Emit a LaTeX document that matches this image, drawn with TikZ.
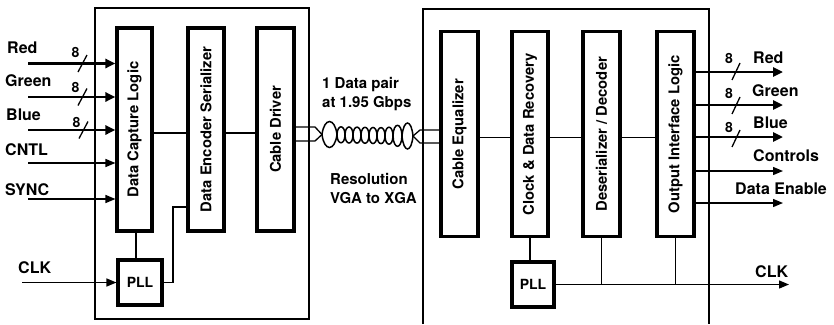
\documentclass[tikz,border=0pt]{standalone}
\usepackage{fontspec}
\setmainfont{TeX Gyre Heros}
\usetikzlibrary{arrows.meta}
\begin{document}
\begin{tikzpicture}[x=1pt,y=-1pt,
  outer/.style={draw, line width=1.7pt},
  blk/.style={draw, line width=3.1pt, inner sep=0pt, minimum height=203pt},
  blkR/.style={blk, minimum height=205pt},
  blabel/.style={font=\fontsize{14.8}{16}\selectfont\bfseries},
  lab/.style={font=\fontsize{16}{18}\selectfont\bfseries, inner sep=0pt, anchor=west},
  mid/.style={font=\fontsize{15}{17}\selectfont\bfseries, inner sep=0pt, anchor=west},
  eight/.style={font=\fontsize{14}{15}\selectfont\bfseries, inner sep=0pt},
  conn/.style={line width=1.3pt},
  thickarrow/.style={line width=2.5pt, -{Triangle[length=10pt,width=9pt]}},
  thinarrow/.style={line width=1.4pt, -{Triangle[length=10pt,width=8pt]}},
  busmark/.style={line width=1.3pt},
  cab/.style={line width=1.5pt},
]
\useasboundingbox (0,0) rectangle (834,324);

% outer boxes
\draw[outer] (95,8) rectangle (309,319);
\draw[outer] (423,324) -- (423,9) -- (709,9) -- (709,324);

% left blocks
\node[blk, minimum width=35pt, label={[blabel,rotate=90]center:Data Capture Logic}] (dcl) at (134.5,129.5) {};
\node[blk, minimum width=36pt, label={[blabel,rotate=90]center:Data Encoder Serializer}] (des) at (206,129.5) {};
\node[blk, minimum width=37pt, label={[blabel,rotate=90]center:Cable Driver}] (cd) at (275.5,129.5) {};
\node[draw, line width=3.1pt, minimum width=44pt, minimum height=45pt, inner sep=0pt, font=\fontsize{14}{16}\selectfont\bfseries] (pllL) at (140,282.5) {PLL};

% right blocks
\node[blkR, minimum width=37pt, label={[blabel,rotate=90]center:Cable Equalizer}] (ce) at (459.5,134.3) {};
\node[blkR, minimum width=36pt, label={[blabel,rotate=90]center:Clock \& Data Recovery}] (cdr) at (530,134.3) {};
\node[blkR, minimum width=37pt, label={[blabel,rotate=90]center:Deserializer / Decoder}] (dd) at (601.5,134.3) {};
\node[blkR, minimum width=37pt, label={[blabel,rotate=90]center:Output Interface Logic}] (oil) at (675.5,134.3) {};
\node[draw, line width=3.1pt, minimum width=42pt, minimum height=45pt, inner sep=0pt, font=\fontsize{14}{16}\selectfont\bfseries] (pllR) at (533,284.5) {PLL};

% left inputs
\coordinate (iRed) at (28,63.5);
\coordinate (iGreen) at (28,97);
\coordinate (iBlue) at (28,130);
\coordinate (iCntl) at (28,163);
\coordinate (iSync) at (28,199);
\coordinate (iClk) at (22,282.5);
\draw[thickarrow] (iRed) -- (iRed -| dcl.west);
\draw[thickarrow] (iGreen) -- (iGreen -| dcl.west);
\draw[thickarrow] (iBlue) -- (iBlue -| dcl.west);
\draw[thinarrow] (iCntl) -- (iCntl -| dcl.west);
\draw[thinarrow] (iSync) -- (iSync -| dcl.west);
\draw[thinarrow] (iClk) -- (pllL.west);

\node[lab] (tRed) at (7,48) {Red};
\node[lab] (tGreen) at (5,81) {Green};
\node[lab] (tBlue) at (6,115) {Blue};
\node[lab] (tCntl) at (5,150) {CNTL};
\node[lab] (tSync) at (5,190) {SYNC};
\node[lab] (tClk) at (18,268) {CLK};

\node[eight] (e1) at (75.5,52) {8};
\node[eight] (e2) at (75.5,87) {8};
\node[eight] (e3) at (76.5,122) {8};
\draw[busmark] (78,72) -- (87,55);
\draw[busmark] (78,105.5) -- (87,88.5);
\draw[busmark] (79,138.5) -- (88,121.5);

% left internal connections
\draw[conn] ([yshift=-3.5pt]dcl.east) -- ([yshift=-3.5pt]des.west);
\draw[conn] ([yshift=-3.5pt]des.east) -- ([yshift=-3.5pt]cd.west);
\draw[conn] ([xshift=-4pt]pllL.north) -- ([xshift=-4pt]pllL.north |- dcl.south);
\coordinate (kink) at (173,207);
\draw[conn] (pllL.east) -| (kink) -- (kink -| des.west);

% cable
\coordinate (l1) at (315,127);
\coordinate (l2) at (315,141);
\coordinate (tpL) at (322,134.5);
\coordinate (r1) at (420,130);
\coordinate (r2) at (420,143);
\coordinate (tpR) at (413,136);
\draw[conn] (cd.east |- l1) -- (l1) -- (tpL) -- (l2) -- (cd.east |- l2);
\draw[conn] (ce.west |- r1) -- (r1) -- (tpR) -- (r2) -- (ce.west |- r2);
\foreach \a/\b/\h/\c/\k in {322/337/13/134.5/0.15, 337/345/8/134.8/0.02, 345/353/8/135/0.02, 353/361/8/135.1/0.02, 361/369/8/135.3/0.02, 369/377/8/135.5/0.02, 377/385/8/135.6/0.02, 385/393/8.5/135.7/0.02, 393/402/10.5/135.8/0.05, 402/413/13/136/0.15}{
  \draw[cab] (\a,\c) .. controls ({\a+\k*(\b-\a)},{\c-1.33*\h}) and ({\b-\k*(\b-\a)},{\c-1.33*\h}) .. (\b,\c)
     .. controls ({\b-\k*(\b-\a)},{\c+1.33*\h}) and ({\a+\k*(\b-\a)},{\c+1.33*\h}) .. (\a,\c);
}
\node[mid] (m1) at (322,85) {1 Data pair};
\node[mid] (m2) at (322,104) {at 1.95 Gbps};
\node[mid] (m3) at (330,179) {Resolution};
\node[mid] (m4) at (330,198) {VGA to XGA};

% right internal connections
\draw[conn] ([yshift=-3pt]ce.east) -- ([yshift=-3pt]cdr.west);
\draw[conn] ([yshift=-3pt]cdr.east) -- ([yshift=-3pt]dd.west);
\draw[conn] ([yshift=-3pt]dd.east) -- ([yshift=-3pt]oil.west);
\draw[conn] ([xshift=-3pt]pllR.north) -- ([xshift=-3pt]pllR.north |- cdr.south);
\coordinate (oClk) at (789,284.5);
\draw[thinarrow] (pllR.east) -- (oClk);
\draw[conn] (dd.south) -- (dd.south |- oClk);
\draw[conn] (oil.south) -- (oil.south |- oClk);

% right outputs
\coordinate (oRed) at (783,72);
\coordinate (oGreen) at (783,105);
\coordinate (oBlue) at (783,137);
\coordinate (oCtl) at (783,171);
\coordinate (oDe) at (783,203);
\draw[thickarrow] (oil.east |- oRed) -- (oRed);
\draw[thickarrow] (oil.east |- oGreen) -- (oGreen);
\draw[thickarrow] (oil.east |- oBlue) -- (oBlue);
\draw[thinarrow] (oil.east |- oCtl) -- (oCtl);
\draw[thinarrow] (oil.east |- oDe) -- (oDe);

\node[lab] (uRed) at (753,58) {Red};
\node[lab] (uGreen) at (752,91) {Green};
\node[lab] (uBlue) at (753,123) {Blue};
\node[lab] (uCtl) at (753,156) {Controls};
\node[lab] (uDe) at (735,189) {Data Enable};
\node[lab] (uClk) at (755,272) {CLK};

\node[eight] (f1) at (729,58) {8};
\node[eight] (f2) at (729,93) {8};
\node[eight] (f3) at (729,127) {8};
\draw[busmark] (732,80) -- (740,63);
\draw[busmark] (732,114) -- (740,97);
\draw[busmark] (732,147) -- (740,130);
\end{tikzpicture}
\end{document}
